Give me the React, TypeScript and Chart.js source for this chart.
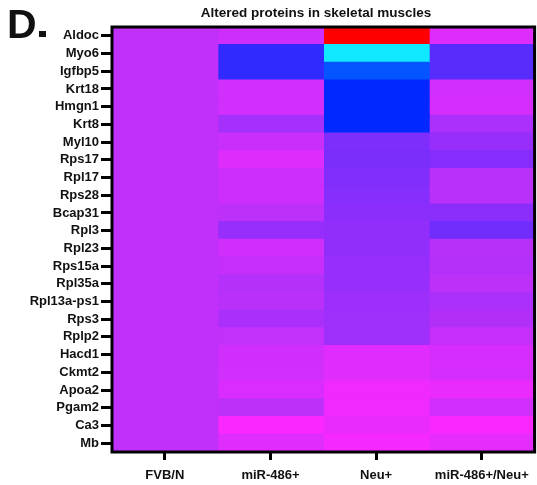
import React, { useEffect, useRef } from 'react';
import { Chart, registerables } from 'chart.js';

Chart.register(...registerables);

const proteins = [
  'Aldoc', 'Myo6', 'Igfbp5', 'Krt18', 'Hmgn1', 'Krt8', 'Myl10', 'Rps17', 'Rpl17', 'Rps28',
  'Bcap31', 'Rpl3', 'Rpl23', 'Rps15a', 'Rpl35a', 'Rpl13a-ps1', 'Rps3', 'Rplp2', 'Hacd1',
  'Ckmt2', 'Apoa2', 'Pgam2', 'Ca3', 'Mb',
];

const groups = ['FVB/N', 'miR-486+', 'Neu+', 'miR-486+/Neu+'];

// relative expression (log scale, FVB/N = 0)
const fvbn = [0, 0, 0, 0, 0, 0, 0, 0, 0, 0, 0, 0, 0, 0, 0, 0, 0, 0, 0, 0, 0, 0, 0, 0];
const mir486 = [0.11, -0.52, -0.52, 0.155, 0.155, -0.1, 0.07, 0.26, 0.11, 0.11, -0.015, -0.15,
  0.14, 0.05, -0.04, -0.03, -0.08, 0.03, 0.14, 0.155, 0.22, -0.01, 0.5, 0.28];
const neu = [1, -1, -0.77, -0.7, -0.7, -0.7, -0.24, -0.25, -0.23, -0.21, -0.19, -0.17,
  -0.17, -0.15, -0.15, -0.13, -0.12, -0.12, 0.28, 0.28, 0.41, 0.41, 0.37, 0.46];
const mirNeu = [0.26, -0.38, -0.38, 0.155, 0.2, -0.07, -0.15, -0.22, -0.025, -0.025, -0.19, -0.29,
  -0.035, -0.045, -0.015, -0.07, -0.05, 0.05, 0.2, 0.2, 0.37, 0.155, 0.5, 0.33];

const groupValues = [fvbn, mir486, neu, mirNeu];

const colorStops: [number, number[]][] = [
  [-1, [16, 232, 255]],
  [-0.7, [0, 40, 255]],
  [0, [192, 48, 250]],
  [0.5, [250, 40, 255]],
  [1, [255, 0, 0]],
];

function colorFor(v: number): string {
  if (v <= colorStops[0][0]) return `rgb(${colorStops[0][1].join(',')})`;
  for (let i = 1; i < colorStops.length; i++) {
    const [v1, c1] = colorStops[i];
    const [v0, c0] = colorStops[i - 1];
    if (v <= v1) {
      const t = (v - v0) / (v1 - v0);
      const c = c0.map((x, k) => Math.round(x + (c1[k] - x) * t));
      return `rgb(${c.join(',')})`;
    }
  }
  return `rgb(${colorStops[colorStops.length - 1][1].join(',')})`;
}

const FONT = 'Liberation Sans, Arial, Helvetica, sans-serif';

const decorPlugin = {
  id: 'decor',
  afterDraw(chart: any) {
    const { ctx, chartArea: a } = chart;
    ctx.save();
    ctx.strokeStyle = '#000';
    ctx.lineWidth = 3;
    ctx.strokeRect(a.left, a.top, a.right - a.left, a.bottom - a.top);
    ctx.fillStyle = '#111';
    ctx.textBaseline = 'alphabetic';
    ctx.textAlign = 'center';
    ctx.font = `bold 13.5px ${FONT}`;
    ctx.fillText('Altered proteins in skeletal muscles', 316, 17);
    ctx.textAlign = 'left';
    ctx.font = `bold 41px ${FONT}`;
    ctx.fillText('D', 7, 38);
    ctx.fillRect(39, 31, 7, 6);
    ctx.restore();
  },
};

export default function App() {
  const ref = useRef<HTMLCanvasElement>(null);
  useEffect(() => {
    if (!ref.current) return;
    const chart = new Chart(ref.current, {
      type: 'bar',
      data: {
        labels: proteins,
        datasets: groups.map((g, gi) => ({
          label: g,
          data: proteins.map(() => 1),
          backgroundColor: groupValues[gi].map(colorFor),
          borderWidth: 0,
          inflateAmount: 0.7,
          barPercentage: 1,
          categoryPercentage: 1,
        })),
      },
      options: {
        indexAxis: 'y',
        responsive: false,
        animation: false,
        layout: { padding: { top: 27, right: 2, left: 0, bottom: 0 } },
        plugins: { legend: { display: false }, tooltip: { enabled: false }, title: { display: false } },
        scales: {
          x: {
            type: 'linear',
            stacked: true,
            min: 0,
            max: 4,
            afterBuildTicks: (s: any) => {
              s.ticks = [0.5, 1.5, 2.5, 3.5].map((v) => ({ value: v }));
            },
            afterFit: (s: any) => { s.height = 33; },
            border: { display: false },
            grid: {
              display: true,
              drawOnChartArea: false,
              drawTicks: true,
              tickLength: 8,
              color: '#000',
              lineWidth: 3,
            },
            ticks: {
              autoSkip: false,
              maxRotation: 0,
              padding: 8,
              color: '#111',
              font: { family: FONT, size: 13, weight: 'bold' },
              callback: (v: any) => groups[Math.floor(Number(v))],
            },
          },
          y: {
            type: 'category',
            stacked: true,
            afterFit: (s: any) => { s.width = 112; },
            border: { display: false },
            grid: {
              display: true,
              offset: false,
              drawOnChartArea: false,
              drawTicks: true,
              tickLength: 11,
              color: '#000',
              lineWidth: 3,
            },
            ticks: {
              autoSkip: false,
              padding: 2,
              color: '#111',
              font: { family: FONT, size: 13, weight: 'bold' },
            },
          },
        },
      } as any,
      plugins: [decorPlugin],
    });
    return () => chart.destroy();
  }, []);
  return (
    <div style={{ position: 'fixed', left: 0, top: 0, width: 537, height: 485, background: '#fff' }}>
      <canvas ref={ref} width={537} height={485} style={{ display: 'block' }} />
    </div>
  );
}
